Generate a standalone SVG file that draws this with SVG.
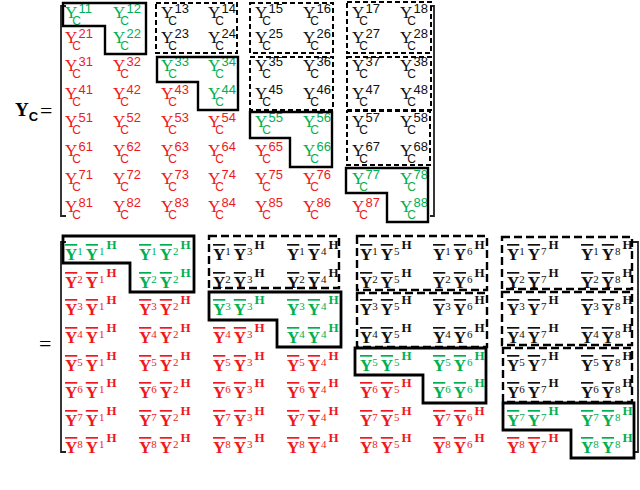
<svg xmlns="http://www.w3.org/2000/svg" width="640" height="490" viewBox="0 0 640 490">
<style>
.t{font-family:"Liberation Serif",serif;font-size:17px}
.s{font-family:"Liberation Sans",sans-serif;font-size:12px}
.n{font-family:"Liberation Sans",sans-serif;font-size:13px}
.b{font-family:"Liberation Serif",serif;font-size:17px;font-weight:bold}
.o{text-decoration:overline}
.d{font-weight:normal;font-size:11px}
.h{font-size:13px}
.g{fill:#00b050}.r{fill:#f01820}.k{fill:#111}
.br{fill:none;stroke:#222;stroke-width:1.8}
.sol{fill:none;stroke:#000;stroke-width:2.4}
.das{fill:none;stroke:#000;stroke-width:2;stroke-dasharray:5 3}
.sol2{fill:none;stroke:#000;stroke-width:2.8}
.das2{fill:none;stroke:#000;stroke-width:2.4;stroke-dasharray:8 4}
</style>
<rect width="640" height="490" fill="#fff"/>
<g id="label-top">
<text x="15" y="116" font-family="Liberation Serif,serif" font-size="19" font-weight="bold">Y<tspan font-family="Liberation Sans,sans-serif" font-size="13" dy="5">C</tspan></text>
<text x="40" y="118" font-family="Liberation Serif,serif" font-size="22">=</text>
</g>
<g id="brackets-top">
<path class="br" d="M66,6 H61 V216 H66"/>
<path class="br" d="M430,6 H434 V216 H430"/>
</g>
<g id="matrix-top">
<text class="t g" x="65" y="18">Y<tspan class="s" dx="-5" dy="7">C</tspan><tspan class="n" dx="-2.5" dy="-12">11</tspan></text>
<text class="t g" x="113" y="18">Y<tspan class="s" dx="-5" dy="7">C</tspan><tspan class="n" dx="-2.5" dy="-12">12</tspan></text>
<text class="t k" x="161" y="18">Y<tspan class="s" dx="-5" dy="7">C</tspan><tspan class="n" dx="-2.5" dy="-12">13</tspan></text>
<text class="t k" x="208" y="18">Y<tspan class="s" dx="-5" dy="7">C</tspan><tspan class="n" dx="-2.5" dy="-12">14</tspan></text>
<text class="t k" x="255" y="18">Y<tspan class="s" dx="-5" dy="7">C</tspan><tspan class="n" dx="-2.5" dy="-12">15</tspan></text>
<text class="t k" x="303" y="18">Y<tspan class="s" dx="-5" dy="7">C</tspan><tspan class="n" dx="-2.5" dy="-12">16</tspan></text>
<text class="t k" x="352" y="18">Y<tspan class="s" dx="-5" dy="7">C</tspan><tspan class="n" dx="-2.5" dy="-12">17</tspan></text>
<text class="t k" x="400" y="18">Y<tspan class="s" dx="-5" dy="7">C</tspan><tspan class="n" dx="-2.5" dy="-12">18</tspan></text>

<text class="t r" x="65" y="43">Y<tspan class="s" dx="-5" dy="7">C</tspan><tspan class="n" dx="-2.5" dy="-12">21</tspan></text>
<text class="t g" x="113" y="43">Y<tspan class="s" dx="-5" dy="7">C</tspan><tspan class="n" dx="-2.5" dy="-12">22</tspan></text>
<text class="t k" x="161" y="43">Y<tspan class="s" dx="-5" dy="7">C</tspan><tspan class="n" dx="-2.5" dy="-12">23</tspan></text>
<text class="t k" x="208" y="43">Y<tspan class="s" dx="-5" dy="7">C</tspan><tspan class="n" dx="-2.5" dy="-12">24</tspan></text>
<text class="t k" x="255" y="43">Y<tspan class="s" dx="-5" dy="7">C</tspan><tspan class="n" dx="-2.5" dy="-12">25</tspan></text>
<text class="t k" x="303" y="43">Y<tspan class="s" dx="-5" dy="7">C</tspan><tspan class="n" dx="-2.5" dy="-12">26</tspan></text>
<text class="t k" x="352" y="43">Y<tspan class="s" dx="-5" dy="7">C</tspan><tspan class="n" dx="-2.5" dy="-12">27</tspan></text>
<text class="t k" x="400" y="43">Y<tspan class="s" dx="-5" dy="7">C</tspan><tspan class="n" dx="-2.5" dy="-12">28</tspan></text>

<text class="t r" x="65" y="71">Y<tspan class="s" dx="-5" dy="7">C</tspan><tspan class="n" dx="-2.5" dy="-12">31</tspan></text>
<text class="t r" x="113" y="71">Y<tspan class="s" dx="-5" dy="7">C</tspan><tspan class="n" dx="-2.5" dy="-12">32</tspan></text>
<text class="t g" x="161" y="71">Y<tspan class="s" dx="-5" dy="7">C</tspan><tspan class="n" dx="-2.5" dy="-12">33</tspan></text>
<text class="t g" x="208" y="71">Y<tspan class="s" dx="-5" dy="7">C</tspan><tspan class="n" dx="-2.5" dy="-12">34</tspan></text>
<text class="t k" x="255" y="71">Y<tspan class="s" dx="-5" dy="7">C</tspan><tspan class="n" dx="-2.5" dy="-12">35</tspan></text>
<text class="t k" x="303" y="71">Y<tspan class="s" dx="-5" dy="7">C</tspan><tspan class="n" dx="-2.5" dy="-12">36</tspan></text>
<text class="t k" x="352" y="71">Y<tspan class="s" dx="-5" dy="7">C</tspan><tspan class="n" dx="-2.5" dy="-12">37</tspan></text>
<text class="t k" x="400" y="71">Y<tspan class="s" dx="-5" dy="7">C</tspan><tspan class="n" dx="-2.5" dy="-12">38</tspan></text>

<text class="t r" x="65" y="99">Y<tspan class="s" dx="-5" dy="7">C</tspan><tspan class="n" dx="-2.5" dy="-12">41</tspan></text>
<text class="t r" x="113" y="99">Y<tspan class="s" dx="-5" dy="7">C</tspan><tspan class="n" dx="-2.5" dy="-12">42</tspan></text>
<text class="t r" x="161" y="99">Y<tspan class="s" dx="-5" dy="7">C</tspan><tspan class="n" dx="-2.5" dy="-12">43</tspan></text>
<text class="t g" x="208" y="99">Y<tspan class="s" dx="-5" dy="7">C</tspan><tspan class="n" dx="-2.5" dy="-12">44</tspan></text>
<text class="t k" x="255" y="99">Y<tspan class="s" dx="-5" dy="7">C</tspan><tspan class="n" dx="-2.5" dy="-12">45</tspan></text>
<text class="t k" x="303" y="99">Y<tspan class="s" dx="-5" dy="7">C</tspan><tspan class="n" dx="-2.5" dy="-12">46</tspan></text>
<text class="t k" x="352" y="99">Y<tspan class="s" dx="-5" dy="7">C</tspan><tspan class="n" dx="-2.5" dy="-12">47</tspan></text>
<text class="t k" x="400" y="99">Y<tspan class="s" dx="-5" dy="7">C</tspan><tspan class="n" dx="-2.5" dy="-12">48</tspan></text>

<text class="t r" x="65" y="127">Y<tspan class="s" dx="-5" dy="7">C</tspan><tspan class="n" dx="-2.5" dy="-12">51</tspan></text>
<text class="t r" x="113" y="127">Y<tspan class="s" dx="-5" dy="7">C</tspan><tspan class="n" dx="-2.5" dy="-12">52</tspan></text>
<text class="t r" x="161" y="127">Y<tspan class="s" dx="-5" dy="7">C</tspan><tspan class="n" dx="-2.5" dy="-12">53</tspan></text>
<text class="t r" x="208" y="127">Y<tspan class="s" dx="-5" dy="7">C</tspan><tspan class="n" dx="-2.5" dy="-12">54</tspan></text>
<text class="t g" x="255" y="127">Y<tspan class="s" dx="-5" dy="7">C</tspan><tspan class="n" dx="-2.5" dy="-12">55</tspan></text>
<text class="t g" x="303" y="127">Y<tspan class="s" dx="-5" dy="7">C</tspan><tspan class="n" dx="-2.5" dy="-12">56</tspan></text>
<text class="t k" x="352" y="127">Y<tspan class="s" dx="-5" dy="7">C</tspan><tspan class="n" dx="-2.5" dy="-12">57</tspan></text>
<text class="t k" x="400" y="127">Y<tspan class="s" dx="-5" dy="7">C</tspan><tspan class="n" dx="-2.5" dy="-12">58</tspan></text>

<text class="t r" x="65" y="156">Y<tspan class="s" dx="-5" dy="7">C</tspan><tspan class="n" dx="-2.5" dy="-12">61</tspan></text>
<text class="t r" x="113" y="156">Y<tspan class="s" dx="-5" dy="7">C</tspan><tspan class="n" dx="-2.5" dy="-12">62</tspan></text>
<text class="t r" x="161" y="156">Y<tspan class="s" dx="-5" dy="7">C</tspan><tspan class="n" dx="-2.5" dy="-12">63</tspan></text>
<text class="t r" x="208" y="156">Y<tspan class="s" dx="-5" dy="7">C</tspan><tspan class="n" dx="-2.5" dy="-12">64</tspan></text>
<text class="t r" x="255" y="156">Y<tspan class="s" dx="-5" dy="7">C</tspan><tspan class="n" dx="-2.5" dy="-12">65</tspan></text>
<text class="t g" x="303" y="156">Y<tspan class="s" dx="-5" dy="7">C</tspan><tspan class="n" dx="-2.5" dy="-12">66</tspan></text>
<text class="t k" x="352" y="156">Y<tspan class="s" dx="-5" dy="7">C</tspan><tspan class="n" dx="-2.5" dy="-12">67</tspan></text>
<text class="t k" x="400" y="156">Y<tspan class="s" dx="-5" dy="7">C</tspan><tspan class="n" dx="-2.5" dy="-12">68</tspan></text>

<text class="t r" x="65" y="184">Y<tspan class="s" dx="-5" dy="7">C</tspan><tspan class="n" dx="-2.5" dy="-12">71</tspan></text>
<text class="t r" x="113" y="184">Y<tspan class="s" dx="-5" dy="7">C</tspan><tspan class="n" dx="-2.5" dy="-12">72</tspan></text>
<text class="t r" x="161" y="184">Y<tspan class="s" dx="-5" dy="7">C</tspan><tspan class="n" dx="-2.5" dy="-12">73</tspan></text>
<text class="t r" x="208" y="184">Y<tspan class="s" dx="-5" dy="7">C</tspan><tspan class="n" dx="-2.5" dy="-12">74</tspan></text>
<text class="t r" x="255" y="184">Y<tspan class="s" dx="-5" dy="7">C</tspan><tspan class="n" dx="-2.5" dy="-12">75</tspan></text>
<text class="t r" x="303" y="184">Y<tspan class="s" dx="-5" dy="7">C</tspan><tspan class="n" dx="-2.5" dy="-12">76</tspan></text>
<text class="t g" x="352" y="184">Y<tspan class="s" dx="-5" dy="7">C</tspan><tspan class="n" dx="-2.5" dy="-12">77</tspan></text>
<text class="t g" x="400" y="184">Y<tspan class="s" dx="-5" dy="7">C</tspan><tspan class="n" dx="-2.5" dy="-12">78</tspan></text>

<text class="t r" x="65" y="212">Y<tspan class="s" dx="-5" dy="7">C</tspan><tspan class="n" dx="-2.5" dy="-12">81</tspan></text>
<text class="t r" x="113" y="212">Y<tspan class="s" dx="-5" dy="7">C</tspan><tspan class="n" dx="-2.5" dy="-12">82</tspan></text>
<text class="t r" x="161" y="212">Y<tspan class="s" dx="-5" dy="7">C</tspan><tspan class="n" dx="-2.5" dy="-12">83</tspan></text>
<text class="t r" x="208" y="212">Y<tspan class="s" dx="-5" dy="7">C</tspan><tspan class="n" dx="-2.5" dy="-12">84</tspan></text>
<text class="t r" x="255" y="212">Y<tspan class="s" dx="-5" dy="7">C</tspan><tspan class="n" dx="-2.5" dy="-12">85</tspan></text>
<text class="t r" x="303" y="212">Y<tspan class="s" dx="-5" dy="7">C</tspan><tspan class="n" dx="-2.5" dy="-12">86</tspan></text>
<text class="t r" x="352" y="212">Y<tspan class="s" dx="-5" dy="7">C</tspan><tspan class="n" dx="-2.5" dy="-12">87</tspan></text>
<text class="t g" x="400" y="212">Y<tspan class="s" dx="-5" dy="7">C</tspan><tspan class="n" dx="-2.5" dy="-12">88</tspan></text>
</g>
<g id="boxes-top">
<path class="sol" d="M63,3 H146 V54 H105 V26 H63 Z"/>
<rect class="das" x="156" y="3" width="81" height="50"/>
<path class="sol" d="M157,57 H238 V110 H198 V82 H157 Z"/>
<rect class="das" x="250" y="3" width="83" height="50"/>
<rect class="das" x="250" y="57" width="83" height="53"/>
<path class="sol" d="M250,112 H332 V167 H290 V138 H250 Z"/>
<rect class="das" x="347" y="2" width="84" height="51"/>
<rect class="das" x="347" y="57" width="84" height="53"/>
<rect class="das" x="347" y="111" width="83" height="54"/>
<path class="sol" d="M346,168 H428 V222 H387 V193 H346 Z"/>
</g>

<g id="label-bottom">
<text x="39" y="351" font-family="Liberation Serif,serif" font-size="22">=</text>
</g>
<g id="brackets-bottom">
<path class="br" d="M66,242 H61 V452 H66"/>
<path class="br" d="M633,242 H638 V452 H633"/>
</g>
<g id="matrix-bottom">
<text class="b g" x="65" y="260"><tspan class="o">Y</tspan><tspan class="d" dy="-5">1</tspan><tspan class="o" dx="3" dy="5">Y</tspan><tspan class="d" dx="1" dy="-5">1</tspan><tspan class="h" dx="2" dy="-6">H</tspan></text>
<text class="b g" x="139" y="260"><tspan class="o">Y</tspan><tspan class="d" dy="-5">1</tspan><tspan class="o" dx="3" dy="5">Y</tspan><tspan class="d" dx="1" dy="-5">2</tspan><tspan class="h" dx="2" dy="-6">H</tspan></text>
<text class="b k" x="213" y="260"><tspan class="o">Y</tspan><tspan class="d" dy="-5">1</tspan><tspan class="o" dx="3" dy="5">Y</tspan><tspan class="d" dx="1" dy="-5">3</tspan><tspan class="h" dx="2" dy="-6">H</tspan></text>
<text class="b k" x="287" y="260"><tspan class="o">Y</tspan><tspan class="d" dy="-5">1</tspan><tspan class="o" dx="3" dy="5">Y</tspan><tspan class="d" dx="1" dy="-5">4</tspan><tspan class="h" dx="2" dy="-6">H</tspan></text>
<text class="b k" x="360" y="260"><tspan class="o">Y</tspan><tspan class="d" dy="-5">1</tspan><tspan class="o" dx="3" dy="5">Y</tspan><tspan class="d" dx="1" dy="-5">5</tspan><tspan class="h" dx="2" dy="-6">H</tspan></text>
<text class="b k" x="433" y="260"><tspan class="o">Y</tspan><tspan class="d" dy="-5">1</tspan><tspan class="o" dx="3" dy="5">Y</tspan><tspan class="d" dx="1" dy="-5">6</tspan><tspan class="h" dx="2" dy="-6">H</tspan></text>
<text class="b k" x="507" y="260"><tspan class="o">Y</tspan><tspan class="d" dy="-5">1</tspan><tspan class="o" dx="3" dy="5">Y</tspan><tspan class="d" dx="1" dy="-5">7</tspan><tspan class="h" dx="2" dy="-6">H</tspan></text>
<text class="b k" x="581" y="260"><tspan class="o">Y</tspan><tspan class="d" dy="-5">1</tspan><tspan class="o" dx="3" dy="5">Y</tspan><tspan class="d" dx="1" dy="-5">8</tspan><tspan class="h" dx="2" dy="-6">H</tspan></text>

<text class="b r" x="65" y="288"><tspan class="o">Y</tspan><tspan class="d" dy="-5">2</tspan><tspan class="o" dx="3" dy="5">Y</tspan><tspan class="d" dx="1" dy="-5">1</tspan><tspan class="h" dx="2" dy="-6">H</tspan></text>
<text class="b g" x="139" y="288"><tspan class="o">Y</tspan><tspan class="d" dy="-5">2</tspan><tspan class="o" dx="3" dy="5">Y</tspan><tspan class="d" dx="1" dy="-5">2</tspan><tspan class="h" dx="2" dy="-6">H</tspan></text>
<text class="b k" x="213" y="288"><tspan class="o">Y</tspan><tspan class="d" dy="-5">2</tspan><tspan class="o" dx="3" dy="5">Y</tspan><tspan class="d" dx="1" dy="-5">3</tspan><tspan class="h" dx="2" dy="-6">H</tspan></text>
<text class="b k" x="287" y="288"><tspan class="o">Y</tspan><tspan class="d" dy="-5">2</tspan><tspan class="o" dx="3" dy="5">Y</tspan><tspan class="d" dx="1" dy="-5">4</tspan><tspan class="h" dx="2" dy="-6">H</tspan></text>
<text class="b k" x="360" y="288"><tspan class="o">Y</tspan><tspan class="d" dy="-5">2</tspan><tspan class="o" dx="3" dy="5">Y</tspan><tspan class="d" dx="1" dy="-5">5</tspan><tspan class="h" dx="2" dy="-6">H</tspan></text>
<text class="b k" x="433" y="288"><tspan class="o">Y</tspan><tspan class="d" dy="-5">2</tspan><tspan class="o" dx="3" dy="5">Y</tspan><tspan class="d" dx="1" dy="-5">6</tspan><tspan class="h" dx="2" dy="-6">H</tspan></text>
<text class="b k" x="507" y="288"><tspan class="o">Y</tspan><tspan class="d" dy="-5">2</tspan><tspan class="o" dx="3" dy="5">Y</tspan><tspan class="d" dx="1" dy="-5">7</tspan><tspan class="h" dx="2" dy="-6">H</tspan></text>
<text class="b k" x="581" y="288"><tspan class="o">Y</tspan><tspan class="d" dy="-5">2</tspan><tspan class="o" dx="3" dy="5">Y</tspan><tspan class="d" dx="1" dy="-5">8</tspan><tspan class="h" dx="2" dy="-6">H</tspan></text>

<text class="b r" x="65" y="315"><tspan class="o">Y</tspan><tspan class="d" dy="-5">3</tspan><tspan class="o" dx="3" dy="5">Y</tspan><tspan class="d" dx="1" dy="-5">1</tspan><tspan class="h" dx="2" dy="-6">H</tspan></text>
<text class="b r" x="139" y="315"><tspan class="o">Y</tspan><tspan class="d" dy="-5">3</tspan><tspan class="o" dx="3" dy="5">Y</tspan><tspan class="d" dx="1" dy="-5">2</tspan><tspan class="h" dx="2" dy="-6">H</tspan></text>
<text class="b g" x="213" y="315"><tspan class="o">Y</tspan><tspan class="d" dy="-5">3</tspan><tspan class="o" dx="3" dy="5">Y</tspan><tspan class="d" dx="1" dy="-5">3</tspan><tspan class="h" dx="2" dy="-6">H</tspan></text>
<text class="b g" x="287" y="315"><tspan class="o">Y</tspan><tspan class="d" dy="-5">3</tspan><tspan class="o" dx="3" dy="5">Y</tspan><tspan class="d" dx="1" dy="-5">4</tspan><tspan class="h" dx="2" dy="-6">H</tspan></text>
<text class="b k" x="360" y="315"><tspan class="o">Y</tspan><tspan class="d" dy="-5">3</tspan><tspan class="o" dx="3" dy="5">Y</tspan><tspan class="d" dx="1" dy="-5">5</tspan><tspan class="h" dx="2" dy="-6">H</tspan></text>
<text class="b k" x="433" y="315"><tspan class="o">Y</tspan><tspan class="d" dy="-5">3</tspan><tspan class="o" dx="3" dy="5">Y</tspan><tspan class="d" dx="1" dy="-5">6</tspan><tspan class="h" dx="2" dy="-6">H</tspan></text>
<text class="b k" x="507" y="315"><tspan class="o">Y</tspan><tspan class="d" dy="-5">3</tspan><tspan class="o" dx="3" dy="5">Y</tspan><tspan class="d" dx="1" dy="-5">7</tspan><tspan class="h" dx="2" dy="-6">H</tspan></text>
<text class="b k" x="581" y="315"><tspan class="o">Y</tspan><tspan class="d" dy="-5">3</tspan><tspan class="o" dx="3" dy="5">Y</tspan><tspan class="d" dx="1" dy="-5">8</tspan><tspan class="h" dx="2" dy="-6">H</tspan></text>

<text class="b r" x="65" y="343"><tspan class="o">Y</tspan><tspan class="d" dy="-5">4</tspan><tspan class="o" dx="3" dy="5">Y</tspan><tspan class="d" dx="1" dy="-5">1</tspan><tspan class="h" dx="2" dy="-6">H</tspan></text>
<text class="b r" x="139" y="343"><tspan class="o">Y</tspan><tspan class="d" dy="-5">4</tspan><tspan class="o" dx="3" dy="5">Y</tspan><tspan class="d" dx="1" dy="-5">2</tspan><tspan class="h" dx="2" dy="-6">H</tspan></text>
<text class="b r" x="213" y="343"><tspan class="o">Y</tspan><tspan class="d" dy="-5">4</tspan><tspan class="o" dx="3" dy="5">Y</tspan><tspan class="d" dx="1" dy="-5">3</tspan><tspan class="h" dx="2" dy="-6">H</tspan></text>
<text class="b g" x="287" y="343"><tspan class="o">Y</tspan><tspan class="d" dy="-5">4</tspan><tspan class="o" dx="3" dy="5">Y</tspan><tspan class="d" dx="1" dy="-5">4</tspan><tspan class="h" dx="2" dy="-6">H</tspan></text>
<text class="b k" x="360" y="343"><tspan class="o">Y</tspan><tspan class="d" dy="-5">4</tspan><tspan class="o" dx="3" dy="5">Y</tspan><tspan class="d" dx="1" dy="-5">5</tspan><tspan class="h" dx="2" dy="-6">H</tspan></text>
<text class="b k" x="433" y="343"><tspan class="o">Y</tspan><tspan class="d" dy="-5">4</tspan><tspan class="o" dx="3" dy="5">Y</tspan><tspan class="d" dx="1" dy="-5">6</tspan><tspan class="h" dx="2" dy="-6">H</tspan></text>
<text class="b k" x="507" y="343"><tspan class="o">Y</tspan><tspan class="d" dy="-5">4</tspan><tspan class="o" dx="3" dy="5">Y</tspan><tspan class="d" dx="1" dy="-5">7</tspan><tspan class="h" dx="2" dy="-6">H</tspan></text>
<text class="b k" x="581" y="343"><tspan class="o">Y</tspan><tspan class="d" dy="-5">4</tspan><tspan class="o" dx="3" dy="5">Y</tspan><tspan class="d" dx="1" dy="-5">8</tspan><tspan class="h" dx="2" dy="-6">H</tspan></text>

<text class="b r" x="65" y="371"><tspan class="o">Y</tspan><tspan class="d" dy="-5">5</tspan><tspan class="o" dx="3" dy="5">Y</tspan><tspan class="d" dx="1" dy="-5">1</tspan><tspan class="h" dx="2" dy="-6">H</tspan></text>
<text class="b r" x="139" y="371"><tspan class="o">Y</tspan><tspan class="d" dy="-5">5</tspan><tspan class="o" dx="3" dy="5">Y</tspan><tspan class="d" dx="1" dy="-5">2</tspan><tspan class="h" dx="2" dy="-6">H</tspan></text>
<text class="b r" x="213" y="371"><tspan class="o">Y</tspan><tspan class="d" dy="-5">5</tspan><tspan class="o" dx="3" dy="5">Y</tspan><tspan class="d" dx="1" dy="-5">3</tspan><tspan class="h" dx="2" dy="-6">H</tspan></text>
<text class="b r" x="287" y="371"><tspan class="o">Y</tspan><tspan class="d" dy="-5">5</tspan><tspan class="o" dx="3" dy="5">Y</tspan><tspan class="d" dx="1" dy="-5">4</tspan><tspan class="h" dx="2" dy="-6">H</tspan></text>
<text class="b g" x="360" y="371"><tspan class="o">Y</tspan><tspan class="d" dy="-5">5</tspan><tspan class="o" dx="3" dy="5">Y</tspan><tspan class="d" dx="1" dy="-5">5</tspan><tspan class="h" dx="2" dy="-6">H</tspan></text>
<text class="b g" x="433" y="371"><tspan class="o">Y</tspan><tspan class="d" dy="-5">5</tspan><tspan class="o" dx="3" dy="5">Y</tspan><tspan class="d" dx="1" dy="-5">6</tspan><tspan class="h" dx="2" dy="-6">H</tspan></text>
<text class="b k" x="507" y="371"><tspan class="o">Y</tspan><tspan class="d" dy="-5">5</tspan><tspan class="o" dx="3" dy="5">Y</tspan><tspan class="d" dx="1" dy="-5">7</tspan><tspan class="h" dx="2" dy="-6">H</tspan></text>
<text class="b k" x="581" y="371"><tspan class="o">Y</tspan><tspan class="d" dy="-5">5</tspan><tspan class="o" dx="3" dy="5">Y</tspan><tspan class="d" dx="1" dy="-5">8</tspan><tspan class="h" dx="2" dy="-6">H</tspan></text>

<text class="b r" x="65" y="398"><tspan class="o">Y</tspan><tspan class="d" dy="-5">6</tspan><tspan class="o" dx="3" dy="5">Y</tspan><tspan class="d" dx="1" dy="-5">1</tspan><tspan class="h" dx="2" dy="-6">H</tspan></text>
<text class="b r" x="139" y="398"><tspan class="o">Y</tspan><tspan class="d" dy="-5">6</tspan><tspan class="o" dx="3" dy="5">Y</tspan><tspan class="d" dx="1" dy="-5">2</tspan><tspan class="h" dx="2" dy="-6">H</tspan></text>
<text class="b r" x="213" y="398"><tspan class="o">Y</tspan><tspan class="d" dy="-5">6</tspan><tspan class="o" dx="3" dy="5">Y</tspan><tspan class="d" dx="1" dy="-5">3</tspan><tspan class="h" dx="2" dy="-6">H</tspan></text>
<text class="b r" x="287" y="398"><tspan class="o">Y</tspan><tspan class="d" dy="-5">6</tspan><tspan class="o" dx="3" dy="5">Y</tspan><tspan class="d" dx="1" dy="-5">4</tspan><tspan class="h" dx="2" dy="-6">H</tspan></text>
<text class="b r" x="360" y="398"><tspan class="o">Y</tspan><tspan class="d" dy="-5">6</tspan><tspan class="o" dx="3" dy="5">Y</tspan><tspan class="d" dx="1" dy="-5">5</tspan><tspan class="h" dx="2" dy="-6">H</tspan></text>
<text class="b g" x="433" y="398"><tspan class="o">Y</tspan><tspan class="d" dy="-5">6</tspan><tspan class="o" dx="3" dy="5">Y</tspan><tspan class="d" dx="1" dy="-5">6</tspan><tspan class="h" dx="2" dy="-6">H</tspan></text>
<text class="b k" x="507" y="398"><tspan class="o">Y</tspan><tspan class="d" dy="-5">6</tspan><tspan class="o" dx="3" dy="5">Y</tspan><tspan class="d" dx="1" dy="-5">7</tspan><tspan class="h" dx="2" dy="-6">H</tspan></text>
<text class="b k" x="581" y="398"><tspan class="o">Y</tspan><tspan class="d" dy="-5">6</tspan><tspan class="o" dx="3" dy="5">Y</tspan><tspan class="d" dx="1" dy="-5">8</tspan><tspan class="h" dx="2" dy="-6">H</tspan></text>

<text class="b r" x="65" y="426"><tspan class="o">Y</tspan><tspan class="d" dy="-5">7</tspan><tspan class="o" dx="3" dy="5">Y</tspan><tspan class="d" dx="1" dy="-5">1</tspan><tspan class="h" dx="2" dy="-6">H</tspan></text>
<text class="b r" x="139" y="426"><tspan class="o">Y</tspan><tspan class="d" dy="-5">7</tspan><tspan class="o" dx="3" dy="5">Y</tspan><tspan class="d" dx="1" dy="-5">2</tspan><tspan class="h" dx="2" dy="-6">H</tspan></text>
<text class="b r" x="213" y="426"><tspan class="o">Y</tspan><tspan class="d" dy="-5">7</tspan><tspan class="o" dx="3" dy="5">Y</tspan><tspan class="d" dx="1" dy="-5">3</tspan><tspan class="h" dx="2" dy="-6">H</tspan></text>
<text class="b r" x="287" y="426"><tspan class="o">Y</tspan><tspan class="d" dy="-5">7</tspan><tspan class="o" dx="3" dy="5">Y</tspan><tspan class="d" dx="1" dy="-5">4</tspan><tspan class="h" dx="2" dy="-6">H</tspan></text>
<text class="b r" x="360" y="426"><tspan class="o">Y</tspan><tspan class="d" dy="-5">7</tspan><tspan class="o" dx="3" dy="5">Y</tspan><tspan class="d" dx="1" dy="-5">5</tspan><tspan class="h" dx="2" dy="-6">H</tspan></text>
<text class="b r" x="433" y="426"><tspan class="o">Y</tspan><tspan class="d" dy="-5">7</tspan><tspan class="o" dx="3" dy="5">Y</tspan><tspan class="d" dx="1" dy="-5">6</tspan><tspan class="h" dx="2" dy="-6">H</tspan></text>
<text class="b g" x="507" y="426"><tspan class="o">Y</tspan><tspan class="d" dy="-5">7</tspan><tspan class="o" dx="3" dy="5">Y</tspan><tspan class="d" dx="1" dy="-5">7</tspan><tspan class="h" dx="2" dy="-6">H</tspan></text>
<text class="b g" x="581" y="426"><tspan class="o">Y</tspan><tspan class="d" dy="-5">7</tspan><tspan class="o" dx="3" dy="5">Y</tspan><tspan class="d" dx="1" dy="-5">8</tspan><tspan class="h" dx="2" dy="-6">H</tspan></text>

<text class="b r" x="65" y="453"><tspan class="o">Y</tspan><tspan class="d" dy="-5">8</tspan><tspan class="o" dx="3" dy="5">Y</tspan><tspan class="d" dx="1" dy="-5">1</tspan><tspan class="h" dx="2" dy="-6">H</tspan></text>
<text class="b r" x="139" y="453"><tspan class="o">Y</tspan><tspan class="d" dy="-5">8</tspan><tspan class="o" dx="3" dy="5">Y</tspan><tspan class="d" dx="1" dy="-5">2</tspan><tspan class="h" dx="2" dy="-6">H</tspan></text>
<text class="b r" x="213" y="453"><tspan class="o">Y</tspan><tspan class="d" dy="-5">8</tspan><tspan class="o" dx="3" dy="5">Y</tspan><tspan class="d" dx="1" dy="-5">3</tspan><tspan class="h" dx="2" dy="-6">H</tspan></text>
<text class="b r" x="287" y="453"><tspan class="o">Y</tspan><tspan class="d" dy="-5">8</tspan><tspan class="o" dx="3" dy="5">Y</tspan><tspan class="d" dx="1" dy="-5">4</tspan><tspan class="h" dx="2" dy="-6">H</tspan></text>
<text class="b r" x="360" y="453"><tspan class="o">Y</tspan><tspan class="d" dy="-5">8</tspan><tspan class="o" dx="3" dy="5">Y</tspan><tspan class="d" dx="1" dy="-5">5</tspan><tspan class="h" dx="2" dy="-6">H</tspan></text>
<text class="b r" x="433" y="453"><tspan class="o">Y</tspan><tspan class="d" dy="-5">8</tspan><tspan class="o" dx="3" dy="5">Y</tspan><tspan class="d" dx="1" dy="-5">6</tspan><tspan class="h" dx="2" dy="-6">H</tspan></text>
<text class="b r" x="507" y="453"><tspan class="o">Y</tspan><tspan class="d" dy="-5">8</tspan><tspan class="o" dx="3" dy="5">Y</tspan><tspan class="d" dx="1" dy="-5">7</tspan><tspan class="h" dx="2" dy="-6">H</tspan></text>
<text class="b g" x="581" y="453"><tspan class="o">Y</tspan><tspan class="d" dy="-5">8</tspan><tspan class="o" dx="3" dy="5">Y</tspan><tspan class="d" dx="1" dy="-5">8</tspan><tspan class="h" dx="2" dy="-6">H</tspan></text>
</g>
<g id="boxes-bottom">
<path class="sol2" d="M63,236 H194 V292 H130 V263 H63 Z"/>
<rect class="das2" x="209" y="236" width="130" height="52"/>
<path class="sol2" d="M209,292 H341 V347 H277 V320 H209 Z"/>
<rect class="das2" x="357" y="236" width="130" height="54"/>
<rect class="das2" x="357" y="293" width="130" height="54"/>
<path class="sol2" d="M355,348 H486 V403 H423 V375 H355 Z"/>
<rect class="das2" x="502" y="237" width="130" height="52"/>
<rect class="das2" x="502" y="292" width="130" height="53"/>
<rect class="das2" x="503" y="348" width="129" height="54"/>
<path class="sol2" d="M503,403 H634 V458 H571 V430 H503 Z"/>
</g>
</svg>
